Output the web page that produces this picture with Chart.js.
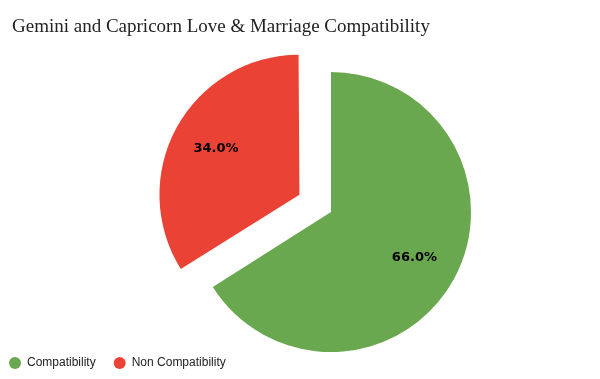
<!DOCTYPE html>
<html>
<head>
<meta charset="utf-8">
<script src="https://cdn.jsdelivr.net/npm/chart.js@4"></script>
<style>
  html, body { margin: 0; padding: 0; background: #fff; }
  #wrap { width: 600px; height: 379px; position: relative; }
</style>
</head>
<body>
<div id="wrap"><canvas id="myChart"></canvas></div>
<script>
let categories = ['Compatibility', 'Non Compatibility'];
let shares = [66.0, 34.0];
let sliceColors = ['#6aa84f', '#ea4335'];
let sliceOffsets = [0, 144];

// the original pie sits right of centre, title and legend stay at the left edge
const placePie = {
    id: 'placePie',
    afterLayout(chart) {
        const area = chart.chartArea;
        area.left += 62;
        area.width = area.right - area.left;
        area.bottom = 347;
        area.height = area.bottom - area.top;
        chart.titleBlock.left = 12;
        chart.legend.left = -9;
        chart.legend.top = 339;
        chart.legend.bottom = 387;
    },
    // keep the pulled-out slice the same radius as the other one
    afterUpdate(chart) {
        const meta = chart.getDatasetMeta(0);
        meta.data.forEach(function (arc, i) {
            const fix = 1 - Math.sin(Math.min(Math.PI, arc.circumference));
            arc.outerRadius -= sliceOffsets[i] / 4 * fix;
        });
    }
};

// puts the percent text on each slice
const sliceLabels = {
    id: 'sliceLabels',
    afterDatasetsDraw(chart) {
        const ctx = chart.ctx;
        const meta = chart.getDatasetMeta(0);
        ctx.save();
        ctx.font = 'bold 13px "DejaVu Sans"';
        ctx.fillStyle = '#000';
        ctx.textAlign = 'center';
        ctx.textBaseline = 'middle';
        meta.data.forEach(function (arc, i) {
            const mid = (arc.startAngle + arc.endAngle) / 2;
            const r = 140 * 0.68 + sliceOffsets[i] / 4;
            const x = arc.x + Math.cos(mid) * r;
            const y = arc.y + Math.sin(mid) * r;
            ctx.fillText(shares[i].toFixed(1) + '%', x, y);
        });
        ctx.restore();
    }
};

const ctx = document.getElementById('myChart').getContext('2d');
const pieChart = new Chart(ctx, {
    type: 'pie',
    data: {
        labels: categories,
        datasets: [{
            data: shares,
            backgroundColor: sliceColors,
            borderWidth: 0,
            offset: sliceOffsets,
            hoverOffset: 0
        }]
    },
    options: {
        responsive: true,
        maintainAspectRatio: false,
        animation: false,
        events: [],
        radius: 140,
        plugins: {
            title: {
                display: true,
                text: 'Gemini and Capricorn Love & Marriage Compatibility',
                align: 'start',
                color: '#222',
                font: { family: '"Liberation Serif"', size: 19, weight: 'normal' },
                padding: { top: 16, bottom: 38.2 }
            },
            legend: {
                position: 'bottom',
                align: 'start',
                labels: {
                    usePointStyle: true,
                    pointStyle: 'circle',
                    boxWidth: 12,
                    boxHeight: 8.5,
                    padding: 18,
                    color: '#222',
                    font: { family: '"Liberation Sans"', size: 12 }
                }
            },
            tooltip: { enabled: false }
        }
    },
    plugins: [placePie, sliceLabels]
});
</script>
</body>
</html>
